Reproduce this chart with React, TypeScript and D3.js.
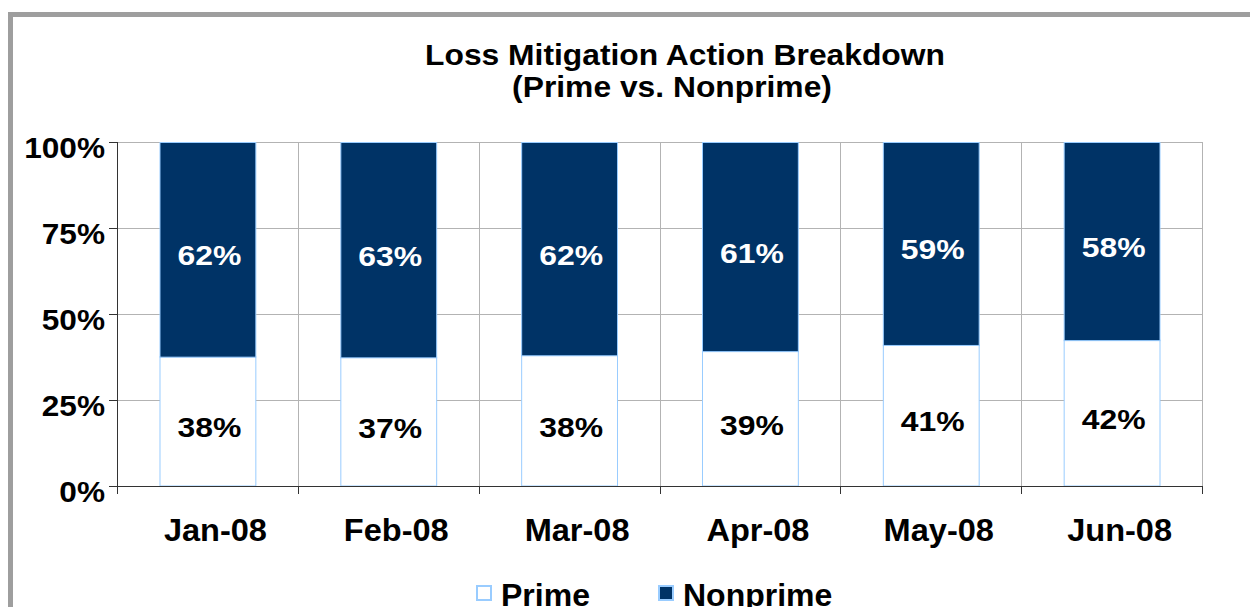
import * as d3 from 'd3';
import React, { useRef, useEffect } from 'react';

const months = ['Jan-08', 'Feb-08', 'Mar-08', 'Apr-08', 'May-08', 'Jun-08'];
const prime = [37.6, 37.4, 38.0, 39.2, 41.0, 42.4];
const nonprime = [62.4, 62.6, 62.0, 60.8, 59.0, 57.6];
const yTicks = [0, 25, 50, 75, 100];
const seriesNames = ['Prime', 'Nonprime'];
const titleLines = ['Loss Mitigation Action Breakdown', '(Prime vs. Nonprime)'];

function App() {
    const ref = useRef(null);

    useEffect(() => {
        const width = 1250;
        const height = 607;
        const svg = d3.select(ref.current);
        svg.selectAll('*').remove();
        svg.attr('width', width).attr('height', height);

        const font = '"Liberation Sans", Arial, sans-serif';
        const margin = { top: 142, right: 48, bottom: 121, left: 117 };
        const boxColor = '#99ccff';
        const darkBlue = '#003366';

        // text in the source is a bit wider than Liberation Sans, so stretch it
        const place = (px, py, sx) => `translate(${px},${py}) scale(${sx},1)`;

        // outer frame, runs off the right and bottom of the page
        svg.append('rect')
            .attr('x', 10.5).attr('y', 14.5)
            .attr('width', 1400).attr('height', 800)
            .attr('fill', 'white')
            .attr('stroke', '#9e9e9e')
            .attr('stroke-width', 5);

        const x = d3.scaleBand()
            .domain(months)
            .range([margin.left, width - margin.right])
            .paddingInner(0.47)
            .paddingOuter(0.235);

        const y = d3.scaleLinear()
            .domain([0, 100])
            .range([height - margin.bottom, margin.top]);

        const gap = (x.step() - x.bandwidth()) / 2;
        const bounds = months.map(m => x(m) - gap).concat([width - margin.right]);

        // horizontal grid
        svg.append('g')
            .selectAll('line')
            .data(yTicks.slice(1))
            .join('line')
            .attr('x1', margin.left).attr('x2', width - margin.right)
            .attr('y1', d => y(d) + 0.5).attr('y2', d => y(d) + 0.5)
            .attr('stroke', '#b3b3b3');

        // vertical grid
        svg.append('g')
            .selectAll('line')
            .data(bounds.slice(1))
            .join('line')
            .attr('x1', d => Math.round(d) + 0.5).attr('x2', d => Math.round(d) + 0.5)
            .attr('y1', y(100)).attr('y2', y(0))
            .attr('stroke', '#b3b3b3');

        // bars
        const rows = months.map((m, i) => ({ m, p: prime[i], n: nonprime[i] }));
        const bars = svg.append('g');
        bars.selectAll('rect.prime')
            .data(rows)
            .join('rect')
            .attr('class', 'prime')
            .attr('x', d => x(d.m) + 0.5)
            .attr('width', x.bandwidth())
            .attr('y', d => y(d.p))
            .attr('height', d => y(0) - y(d.p))
            .attr('fill', 'white')
            .attr('stroke', boxColor);
        bars.selectAll('rect.nonprime')
            .data(rows)
            .join('rect')
            .attr('class', 'nonprime')
            .attr('x', d => x(d.m) + 0.5)
            .attr('width', x.bandwidth())
            .attr('y', d => y(d.p + d.n) + 0.5)
            .attr('height', d => y(d.p) - y(d.p + d.n))
            .attr('fill', darkBlue)
            .attr('stroke', boxColor);

        // value labels
        const lbl = svg.append('g')
            .attr('font-family', font)
            .attr('font-weight', 'bold')
            .attr('font-size', 28)
            .attr('text-anchor', 'middle');
        lbl.selectAll('text.p')
            .data(rows)
            .join('text')
            .attr('class', 'p')
            .attr('transform', d => place(x(d.m) + x.bandwidth() / 2 + 2, (y(0) + y(d.p)) / 2 + 16, 1.14))
            .attr('fill', 'black')
            .text(d => `${Math.round(d.p)}%`);
        lbl.selectAll('text.n')
            .data(rows)
            .join('text')
            .attr('class', 'n')
            .attr('transform', d => place(x(d.m) + x.bandwidth() / 2 + 2, (y(d.p) + y(d.p + d.n)) / 2 + 16, 1.14))
            .attr('fill', 'white')
            .text(d => `${Math.round(d.n)}%`);

        // axes
        const axisColor = '#333333';
        svg.append('line')
            .attr('x1', margin.left + 0.5).attr('x2', margin.left + 0.5)
            .attr('y1', y(100)).attr('y2', y(0) + 8)
            .attr('stroke', axisColor);
        svg.append('line')
            .attr('x1', margin.left - 8).attr('x2', width - margin.right)
            .attr('y1', y(0) + 0.5).attr('y2', y(0) + 0.5)
            .attr('stroke', axisColor);
        svg.append('g')
            .selectAll('line')
            .data(yTicks)
            .join('line')
            .attr('x1', margin.left - 8).attr('x2', margin.left)
            .attr('y1', d => y(d) + 0.5).attr('y2', d => y(d) + 0.5)
            .attr('stroke', axisColor);
        svg.append('g')
            .selectAll('line')
            .data(bounds.slice(1))
            .join('line')
            .attr('x1', d => Math.round(d) + 0.5).attr('x2', d => Math.round(d) + 0.5)
            .attr('y1', y(0)).attr('y2', y(0) + 8)
            .attr('stroke', axisColor);

        svg.append('g')
            .attr('font-family', font)
            .attr('font-weight', 'bold')
            .attr('font-size', 29)
            .attr('text-anchor', 'end')
            .selectAll('text')
            .data(yTicks)
            .join('text')
            .attr('transform', d => place(105, y(d) + 16, 1.09))
            .text(d => `${d}%`);

        svg.append('g')
            .attr('font-family', font)
            .attr('font-weight', 'bold')
            .attr('font-size', 31)
            .attr('text-anchor', 'middle')
            .selectAll('text')
            .data(months)
            .join('text')
            .attr('transform', d => place(x(d) + x.bandwidth() / 2 + 8, 541, 1.05))
            .text(d => d);

        // title
        const titleX = [685, 672];
        svg.append('g')
            .attr('font-family', font)
            .attr('font-weight', 'bold')
            .attr('font-size', 30)
            .attr('text-anchor', 'middle')
            .selectAll('text')
            .data(titleLines)
            .join('text')
            .attr('transform', (d, i) => place(titleX[i], 64.5 + i * 32.5, 1.06))
            .text(d => d);

        // legend
        const legendX = [476, 658];
        const leg = svg.append('g');
        leg.selectAll('rect')
            .data(seriesNames)
            .join('rect')
            .attr('x', (d, i) => legendX[i] + 1)
            .attr('y', 586)
            .attr('width', 14).attr('height', 14)
            .attr('fill', (d, i) => i === 0 ? 'white' : darkBlue)
            .attr('stroke', boxColor)
            .attr('stroke-width', 2);
        leg.selectAll('text')
            .data(seriesNames)
            .join('text')
            .attr('transform', (d, i) => place(legendX[i] + 25, 606, 1.0))
            .attr('font-family', font)
            .attr('font-weight', 'bold')
            .attr('font-size', 32)
            .text(d => d);
    }, []);

    return (
        <svg ref={ref} style={{ position: 'absolute', left: 0, top: 0 }}></svg>
    );
}

export default App;
